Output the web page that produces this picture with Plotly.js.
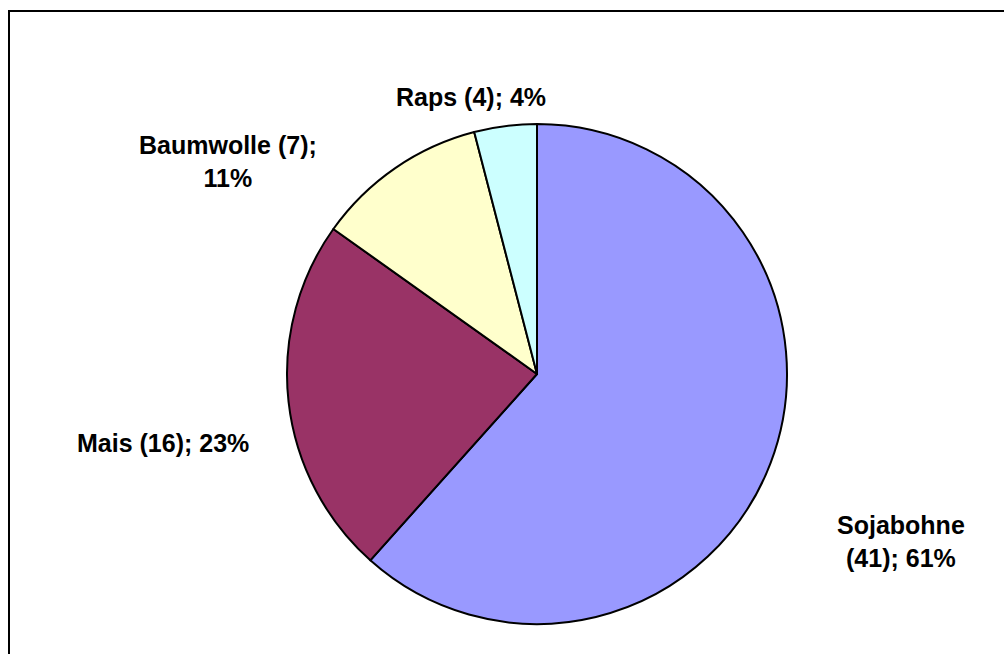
<!DOCTYPE html>
<html>
<head>
<meta charset="utf-8">
<script src="https://cdn.plot.ly/plotly-3.0.1.min.js"></script>
<style>
  html, body { margin: 0; padding: 0; background: #ffffff; }
  #chart { width: 1004px; height: 654px; }
</style>
</head>
<body>
<div id="chart"></div>
<script>
// Data
const categories = ["Sojabohne", "Mais", "Baumwolle", "Raps"];
const counts = [41, 16, 7, 4];
const shares = [61, 23, 11, 4];
const labelTexts = [
  "Sojabohne<br>(41); 61%",
  "Mais (16); 23%",
  "Baumwolle (7);<br>11%",
  "Raps (4); 4%"
];
const colors = ["#9999FF", "#993366", "#FFFFCC", "#CCFFFF"];

const W = 1004, H = 654;
// label centres (pixels)
const labelPos = [[901, 541], [163, 443], [228, 161], [471, 97]];

const trace = {
  type: "pie",
  labels: categories,
  values: shares,
  customdata: counts,
  sort: false,
  direction: "clockwise",
  rotation: 0,
  textinfo: "none",
  hoverinfo: "none",
  marker: { colors: colors, line: { color: "#000000", width: 2 } },
  domain: { x: [(537 - 250) / W, (537 + 250) / W], y: [1 - 624 / H, 1 - 124 / H] },
  showlegend: false
};

const annotations = labelTexts.map((t, i) => ({
  text: t,
  xref: "paper", yref: "paper",
  x: labelPos[i][0] / W, y: 1 - labelPos[i][1] / H,
  xanchor: "center", yanchor: "middle", align: "center",
  showarrow: false,
  font: { family: "Liberation Sans, Arial, sans-serif", size: 25, color: "#000000", weight: "bold" }
}));

const layout = {
  width: W, height: H,
  margin: { l: 0, r: 0, t: 0, b: 0 },
  paper_bgcolor: "#ffffff",
  showlegend: false,
  annotations: annotations,
  shapes: [{
    type: "rect", xref: "paper", yref: "paper",
    x0: 9 / W, x1: 1.05, y0: -0.05, y1: 1 - 11 / H,
    line: { color: "#000000", width: 2 }, fillcolor: "rgba(0,0,0,0)", layer: "above"
  }]
};

Plotly.newPlot("chart", [trace], layout, { displayModeBar: false, staticPlot: true });
</script>
</body>
</html>
